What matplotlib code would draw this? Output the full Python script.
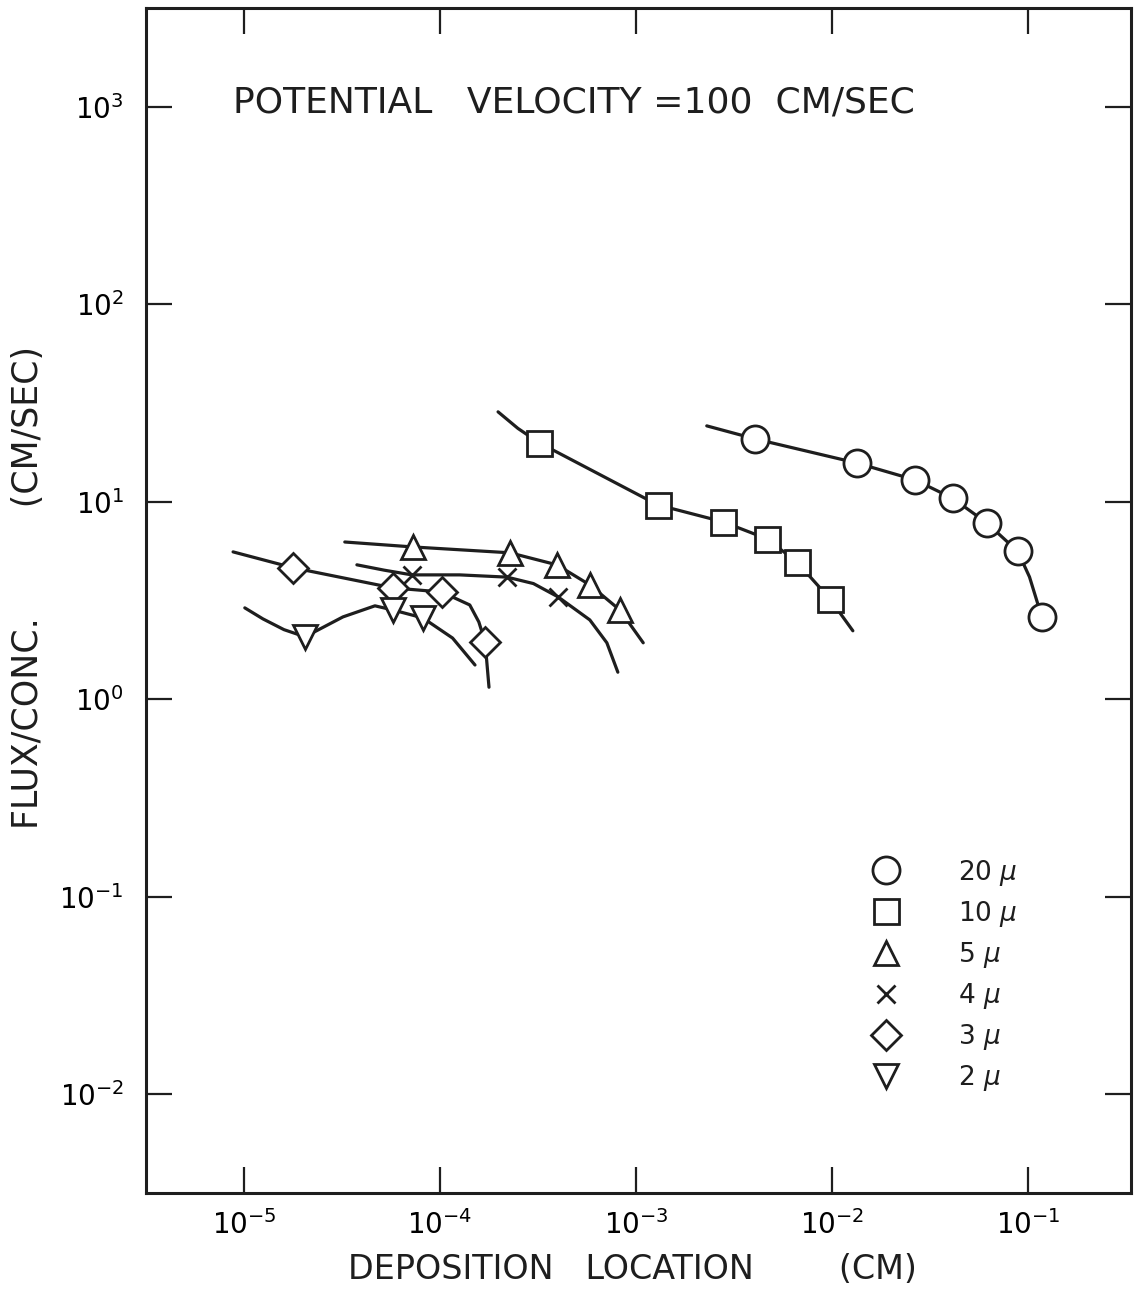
import matplotlib
matplotlib.use("Agg")
import matplotlib.pyplot as plt
from matplotlib.ticker import FixedLocator, NullLocator

plt.rcParams['font.family'] = ['DejaVu Sans']
plt.rcParams['mathtext.fontset'] = 'dejavusans'

# data: markers and hand-drawn curve paths
# 20 micron
m20_x = [4.05e-3, 1.34e-2, 2.65e-2, 4.14e-2, 6.18e-2, 8.89e-2, 1.18e-1]
m20_y = [20.8, 15.7, 12.9, 10.4, 7.8, 5.6, 2.6]
c20_x = [2.30e-3, 4.05e-3, 1.34e-2, 2.65e-2, 4.14e-2, 6.18e-2, 8.89e-2, 1.02e-1, 1.18e-1]
c20_y = [24.2, 20.8, 15.7, 12.9, 10.4, 7.8, 5.6, 4.16, 2.6]
# 10 micron
m10_x = [3.20e-4, 1.29e-3, 2.78e-3, 4.66e-3, 6.62e-3, 9.77e-3]
m10_y = [19.9, 9.64, 7.91, 6.49, 4.96, 3.22]
c10_x = [1.98e-4, 2.5e-4, 3.20e-4, 1.29e-3, 2.78e-3, 4.66e-3, 6.62e-3, 9.77e-3, 1.28e-2]
c10_y = [28.5, 23.5, 19.9, 9.64, 7.91, 6.49, 4.96, 3.22, 2.22]
# 5 micron
m5_x = [7.28e-5, 2.28e-4, 3.95e-4, 5.82e-4, 8.28e-4]
m5_y = [5.90, 5.51, 4.79, 3.79, 2.83]
c5_x = [3.27e-5, 7.28e-5, 2.28e-4, 3.95e-4, 5.82e-4, 8.28e-4, 1.09e-3]
c5_y = [6.25, 5.90, 5.51, 4.79, 3.79, 2.83, 1.93]
# 4 micron
m4_x = [7.19e-5, 2.20e-4, 4.00e-4]
m4_y = [4.26, 4.15, 3.30]
c4_x = [3.77e-5, 5.2e-5, 7.19e-5, 1.26e-4, 2.20e-4, 3.0e-4, 4.00e-4, 5.82e-4, 7.11e-4, 8.09e-4]
c4_y = [4.79, 4.50, 4.26, 4.26, 4.15, 3.85, 3.30, 2.52, 1.93, 1.37]
# 3 micron
m3_x = [1.78e-5, 5.75e-5, 1.02e-4, 1.70e-4]
m3_y = [4.63, 3.66, 3.49, 1.95]
c3_x = [8.8e-6, 1.78e-5, 5.75e-5, 1.02e-4, 1.42e-4, 1.58e-4, 1.70e-4, 1.78e-4]
c3_y = [5.57, 4.63, 3.66, 3.49, 3.00, 2.46, 1.95, 1.15]
# 2 micron
m2_x = [2.05e-5, 5.75e-5, 8.18e-5]
m2_y = [2.07, 2.83, 2.58]
c2_x = [1.01e-5, 1.25e-5, 1.6e-5, 2.05e-5, 3.20e-5, 4.66e-5, 5.75e-5, 8.18e-5, 1.16e-4, 1.51e-4]
c2_y = [2.90, 2.55, 2.25, 2.07, 2.61, 2.97, 2.83, 2.58, 2.04, 1.49]

labels = ["20 $\\mu$", "10 $\\mu$", "5 $\\mu$", "4 $\\mu$", "3 $\\mu$", "2 $\\mu$"]
x_ticks = [1e-5, 1e-4, 1e-3, 1e-2, 1e-1]
y_ticks = [1e-2, 1e-1, 1e0, 1e1, 1e2, 1e3]

fig = plt.figure(figsize=(11.36, 12.91), dpi=100)
ax = fig.add_axes([0.1285, 0.0759, 0.867, 0.918])

ink = '#1e1e1e'
series = [
    (m20_x, m20_y, c20_x, c20_y, 'o', 19.5),
    (m10_x, m10_y, c10_x, c10_y, 's', 18),
    (m5_x, m5_y, c5_x, c5_y, '^', 17),
    (m4_x, m4_y, c4_x, c4_y, 'x', 13),
    (m3_x, m3_y, c3_x, c3_y, 'D', 15),
    (m2_x, m2_y, c2_x, c2_y, 'v', 17),
]
handles = []
for (mx, my, cx, cy, mk, ms), lab in zip(series, labels):
    ax.plot(cx, cy, color=ink, lw=2.3, zorder=2, solid_capstyle='round',
            solid_joinstyle='round')
    h, = ax.plot(mx, my, ls='none', marker=mk, ms=ms, mfc='white', mec=ink,
                 mew=2.0, zorder=3, label=lab)
    handles.append(h)

ax.set_xscale('log')
ax.set_yscale('log')
ax.set_xlim(10**-5.5, 10**-0.474)
ax.set_ylim(10**-2.5, 10**3.5)
ax.xaxis.set_major_locator(FixedLocator(x_ticks))
ax.yaxis.set_major_locator(FixedLocator(y_ticks))
ax.xaxis.set_minor_locator(NullLocator())
ax.yaxis.set_minor_locator(NullLocator())
ax.tick_params(which='major', direction='in', length=19, width=1.6,
               top=True, right=True, labelsize=20, color=ink)
ax.tick_params(axis='y', pad=16)
ax.tick_params(axis='x', pad=12)
for s in ax.spines.values():
    s.set_linewidth(2.2)
    s.set_color(ink)

ax.text(0.4345, 0.920, "POTENTIAL   VELOCITY =100  CM/SEC", transform=ax.transAxes,
        ha='center', va='center', fontsize=26, color=ink)
ax.set_xlabel("DEPOSITION   LOCATION        (CM)", fontsize=24, color=ink)
ax.xaxis.set_label_coords(0.494, -0.051)
ax.set_ylabel("FLUX/CONC.          (CM/SEC)", fontsize=25, color=ink)
ax.yaxis.set_label_coords(-0.1025, 0.511)

ax.legend(handles=handles, loc='upper left', bbox_to_anchor=(0.731, 0.283),
          frameon=False, fontsize=19, handlelength=1.5, handletextpad=2.0,
          labelspacing=0.42, borderpad=0, borderaxespad=0, labelcolor=ink)

fig.savefig("out.png", dpi=100)
